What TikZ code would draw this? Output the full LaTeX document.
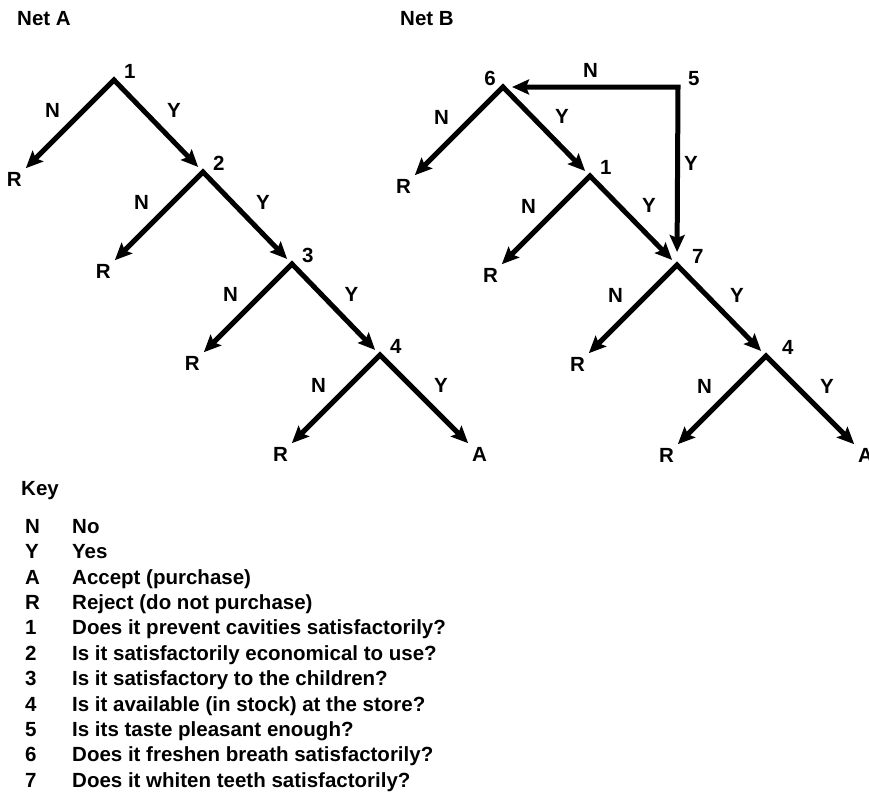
\documentclass[tikz,border=0pt]{standalone}
\usepackage{fontspec}
\setmainfont{Liberation Sans}
\usetikzlibrary{arrows.meta,calc}

\begin{document}
\begin{tikzpicture}[x=1pt, y=-1pt, >={Stealth[length=17pt,width=15pt,inset=3pt]},
    lbl/.style={font=\bfseries\fontsize{20.5}{24}\selectfont, inner sep=1pt},
    num/.style={lbl, anchor=south west, xshift=9pt},
    rej/.style={lbl, anchor=north east},
    acc/.style={lbl, anchor=north west},
    fork/.style={<->, line width=5pt, shorten <=4pt, shorten >=7pt}]
  \useasboundingbox (0,0) rectangle (869,793);
  % 标题
  \node[lbl, anchor=west] (titleA) at (16,19) {Net A};
  \node[lbl, anchor=west] (titleB) at (399,19) {Net B};

  % 网络A：判断点 1,2,3,4
  \coordinate (a1) at (114,80);
  \coordinate (a2) at (203,172);
  \coordinate (a3) at (292,264);
  \coordinate (a4) at (380,355);
  \foreach \i in {1,...,4} {
    \node[num] (na\i) at (a\i) {\i};
    \node[rej] (ra\i) at ($(a\i)+(-91,91)$) {R};
  }
  \node[acc] (aa) at ($(a4)+(91,91)$) {A};
  \foreach \i/\j in {1/2,2/3,3/4}
    \draw[fork] (ra\i.north east) -- node[lbl, above left=5pt] (xa\i) {N} (a\i)
      -- node[lbl, above right=5pt] (ya\i) {Y} (a\j);
  \draw[fork, shorten >=4pt] (ra4.north east) -- node[lbl, above left=5pt] (xa4) {N} (a4)
    -- node[lbl, above right=5pt] (ya4) {Y} (aa.north west);

  % 网络B：判断点 5,6,1,7,4
  \coordinate (b5) at (678,87);
  \coordinate (b6) at (503,87);
  \coordinate (b1) at (590,176);
  \coordinate (b7) at (677,265);
  \coordinate (b4) at (766,356);
  \node[num] (nb5) at (b5) {5};
  \node[lbl, anchor=south east, xshift=-6pt] (nb6) at (b6) {6};
  \node[num] (nb1) at (b1) {1};
  \node[num, xshift=5pt] (nb7) at (b7) {7};
  \node[num, xshift=6pt] (nb4) at (b4) {4};
  \foreach \i in {6,1,7,4}
    \node[rej] (rb\i) at ($(b\i)+(-91,91)$) {R};
  \node[acc] (ab) at ($(b4)+(91,91)$) {A};
  \draw[fork, shorten <=9pt, shorten >=13pt] (b6) -- node[lbl, above=6pt] (xb5) {N} (b5)
    -- node[lbl, right=3pt, pos=0.43] (yb5) {Y} (b7);
  \foreach \i/\j in {6/1,1/7,7/4}
    \draw[fork] (rb\i.north east) -- node[lbl, above left=5pt] (xb\i) {N} (b\i)
      -- node[lbl, above right=5pt] (yb\i) {Y} (b\j);
  \draw[fork, shorten >=4pt] (rb4.north east) -- node[lbl, above left=5pt] (xb4) {N} (b4)
    -- node[lbl, above right=5pt] (yb4) {Y} (ab.north west);

  % 图例
  \node[lbl, anchor=base west] (key) at (20,495.3) {Key};
  \foreach \k/\t [count=\i] in {N/No, Y/Yes, A/Accept (purchase), R/Reject (do not purchase),
      1/Does it prevent cavities satisfactorily?, 2/Is it satisfactorily economical to use?,
      3/Is it satisfactory to the children?, 4/Is it available (in stock) at the store?,
      5/Is its taste pleasant enough?, 6/Does it freshen breath satisfactorily?,
      7/Does it whiten teeth satisfactorily?} {
    \node[lbl, anchor=base west] (kl\i) at (24,{533.3+25.4*(\i-1)}) {\k};
    \node[lbl, anchor=base west] (kt\i) at (71,{533.3+25.4*(\i-1)}) {\t};
  }
\end{tikzpicture}
\end{document}
